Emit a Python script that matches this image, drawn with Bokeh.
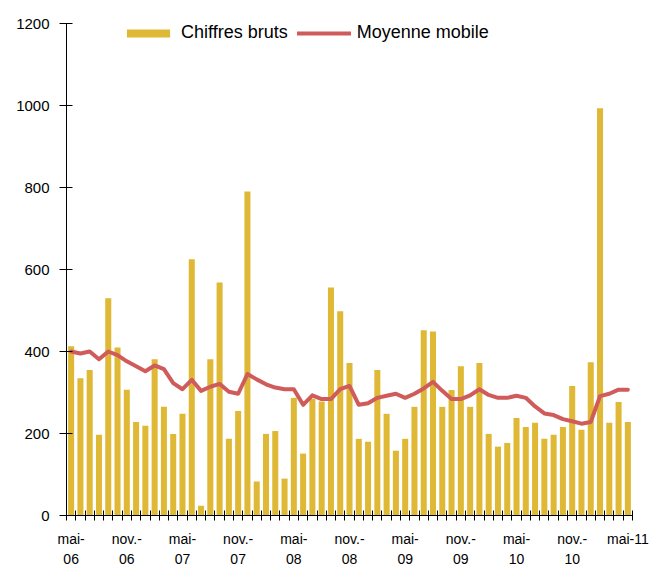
from bokeh.plotting import figure
from bokeh.models import Range1d, FixedTicker, Legend, LegendItem
from bokeh.embed import file_html
from bokeh.resources import INLINE

months = [
    "mai-06", "juin-06", "juil.-06", "août-06", "sept.-06", "oct.-06", "nov.-06", "déc.-06",
    "janv.-07", "févr.-07", "mars-07", "avr.-07", "mai-07", "juin-07", "juil.-07", "août-07",
    "sept.-07", "oct.-07", "nov.-07", "déc.-07", "janv.-08", "févr.-08", "mars-08", "avr.-08",
    "mai-08", "juin-08", "juil.-08", "août-08", "sept.-08", "oct.-08", "nov.-08", "déc.-08",
    "janv.-09", "févr.-09", "mars-09", "avr.-09", "mai-09", "juin-09", "juil.-09", "août-09",
    "sept.-09", "oct.-09", "nov.-09", "déc.-09", "janv.-10", "févr.-10", "mars-10", "avr.-10",
    "mai-10", "juin-10", "juil.-10", "août-10", "sept.-10", "oct.-10", "nov.-10", "déc.-10",
    "janv.-11", "févr.-11", "mars-11", "avr.-11", "mai-11",
]

chiffres_bruts = [
    413, 335, 355, 197, 530, 410, 307, 228, 219, 381, 265, 199, 248, 625, 24, 381,
    568, 187, 255, 790, 83, 199, 206, 90, 287, 151, 285, 278, 556, 498, 372, 187,
    180, 355, 248, 158, 187, 265, 452, 449, 265, 306, 364, 265, 372, 199, 168, 177,
    238, 216, 226, 187, 197, 216, 316, 209, 374, 993, 226, 277, 228,
]

moyenne_mobile = [
    400, 395, 400, 381, 400, 391, 376, 364, 352, 366, 357, 323, 308, 331, 304, 314,
    321, 302, 297, 345, 332, 320, 312, 308, 308, 270, 293, 284, 284, 308, 316, 270,
    274, 287, 292, 297, 287, 297, 310, 326, 304, 284, 284, 293, 308, 294, 287, 287,
    292, 287, 266, 249, 245, 235, 230, 224, 228, 291, 297, 307, 307,
]

tick_labels = [
    "mai-\n06", "nov.-\n06", "mai-\n07", "nov.-\n07", "mai-\n08", "nov.-\n08",
    "mai-\n09", "nov.-\n09", "mai-\n10", "nov.-\n10", "mai-11",
]
y_ticks = [0, 200, 400, 600, 800, 1000, 1200]

FONT = "Liberation Sans"
BAR_COLOR = "#DFB935"
LINE_COLOR = "#CF5B5B"

n = len(months)
x = [i + 0.5 for i in range(n)]
label_pos = [i + 0.5 for i in range(0, n, 6)]

p = figure(width=650, height=570, output_backend="svg", toolbar_location=None,
           x_range=Range1d(0, n), y_range=Range1d(0, 1200),
           min_border_left=66, min_border_right=18, min_border_top=23, min_border_bottom=55)
p.outline_line_color = None
p.xgrid.visible = False
p.ygrid.visible = False
p.background_fill_color = "white"
p.border_fill_color = "white"

bars = p.vbar(x=x, top=chiffres_bruts, width=0.65, bottom=0,
              fill_color=BAR_COLOR, line_color=None)
line = p.line(x=x, y=moyenne_mobile, line_color=LINE_COLOR, line_width=4,
              line_join="round", line_cap="round")

# X axis
xa = p.xaxis[0]
xa.ticker = FixedTicker(ticks=label_pos, minor_ticks=list(range(n + 1)))
xa.major_label_overrides = {pos: lab for pos, lab in zip(label_pos, tick_labels)}
xa.major_tick_in = 0
xa.major_tick_out = 0
xa.minor_tick_in = 5
xa.minor_tick_out = 5
xa.minor_tick_line_color = "black"
xa.axis_line_color = "black"
xa.major_label_standoff = 10
xa.major_label_text_font = FONT
xa.major_label_text_font_size = "14px"
xa.major_label_text_color = "black"
xa.major_label_text_line_height = 1.25
xa.major_label_orientation = "horizontal"

# Y axis
ya = p.yaxis[0]
ya.ticker = FixedTicker(ticks=y_ticks, minor_ticks=[])
ya.major_tick_in = 6
ya.major_tick_out = 7
ya.major_tick_line_color = "black"
ya.axis_line_color = "black"
ya.major_label_standoff = 10
ya.major_label_text_font = FONT
ya.major_label_text_font_size = "15px"
ya.major_label_text_color = "black"

legend = Legend(items=[LegendItem(label="Chiffres bruts", renderers=[bars]),
                       LegendItem(label="Moyenne mobile", renderers=[line])],
                orientation="horizontal", location=(55, 472),
                border_line_color=None, background_fill_alpha=0,
                padding=0, margin=0, spacing=9, label_standoff=6,
                glyph_width=54, glyph_height=10,
                label_text_font=FONT, label_text_font_size="18px",
                label_text_color="black")
p.add_layout(legend, "center")

open("out.html", "w").write(file_html(p, INLINE))
